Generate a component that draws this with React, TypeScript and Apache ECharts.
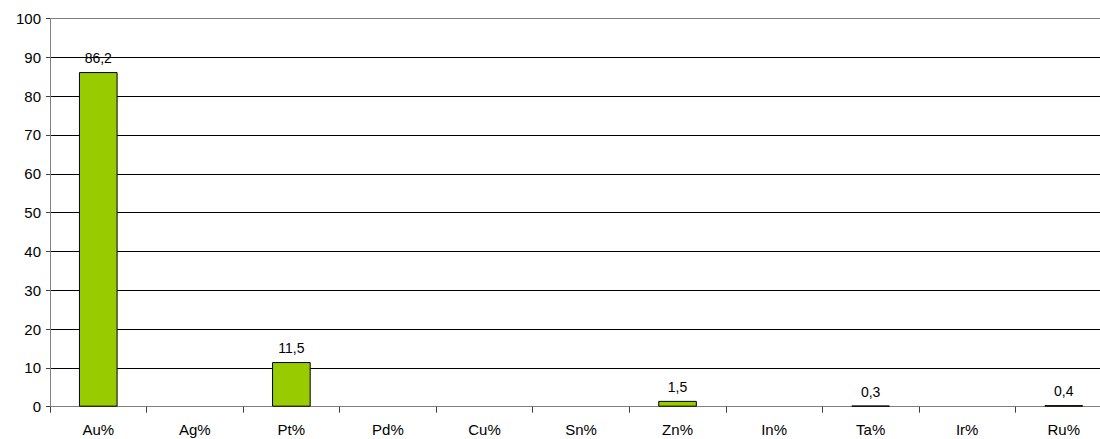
import React, { useEffect, useRef } from "react";
import * as echarts from "echarts";

const categories = ["Au%", "Ag%", "Pt%", "Pd%", "Cu%", "Sn%", "Zn%", "In%", "Ta%", "Ir%", "Ru%"];
const values: (number | null)[] = [86.2, null, 11.5, null, null, null, 1.5, null, 0.3, null, 0.4];

export default function App() {
  const ref = useRef<HTMLDivElement>(null);
  useEffect(() => {
    if (!ref.current) return;
    const chart = echarts.init(ref.current, null, { renderer: "svg" });
    const font = "'Liberation Sans', Arial, sans-serif";
    const gridColors = ["#000", "#000", "#000", "#000", "#000", "#000", "#000", "#000", "#000", "#000", "#808080"];
    chart.setOption({
      animation: false,
      backgroundColor: "#ffffff",
      grid: { left: 50, top: 18.5, width: 1062, height: 388.2, containLabel: false },
      xAxis: {
        type: "category",
        data: categories,
        boundaryGap: true,
        axisLine: { show: true, lineStyle: { color: "#808080", width: 1 } },
        axisTick: { show: true, alignWithLabel: false, length: 6, lineStyle: { color: "#404040" } },
        axisLabel: { color: "#000", fontFamily: font, fontSize: 15, margin: 15 },
        splitLine: { show: false },
      },
      yAxis: {
        type: "value",
        min: 0,
        max: 100,
        interval: 10,
        axisLine: { show: true, lineStyle: { color: "#808080", width: 1 } },
        axisTick: { show: true, length: 4, lineStyle: { color: "#404040" } },
        axisLabel: { color: "#000", fontFamily: font, fontSize: 15, margin: 9 },
        splitLine: { show: true, lineStyle: { color: gridColors, width: 1 } },
      },
      series: [
        {
          type: "bar",
          data: values,
          barWidth: "40%",
          itemStyle: { color: "#99CC00", borderColor: "#000", borderWidth: 1 },
          label: {
            show: true,
            position: "top",
            distance: 7,
            color: "#000",
            fontFamily: font,
            fontSize: 14,
            formatter: (p: any) => (p.value == null ? "" : String(p.value).replace(".", ",")),
          },
        },
      ],
    });
    return () => chart.dispose();
  }, []);
  return (
    <div style={{ position: "absolute", left: 0, top: 0, width: 1100, height: 439, overflow: "hidden" }}>
      <div ref={ref} style={{ width: 1140, height: 439 }} />
    </div>
  );
}
